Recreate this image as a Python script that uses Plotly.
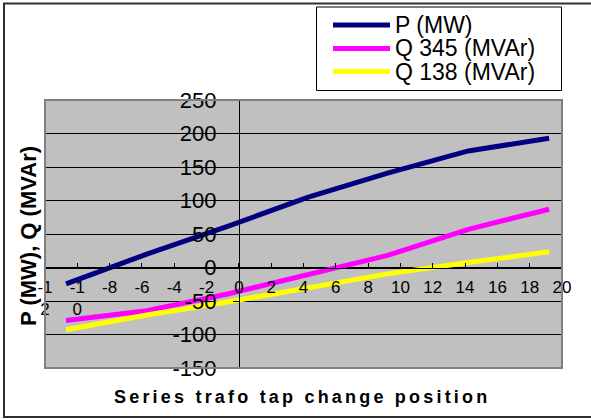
import plotly.graph_objects as go

# Data
tap_position = [-10.7, -5.7, -0.7, 4.3, 9.2, 14.2, 19.2]
p_mw = [-24.5, 20, 61.5, 105, 141, 174, 193]
q345_mvar = [-79, -64.5, -39.5, -11, 18, 57, 87]
q138_mvar = [-93, -71, -51.5, -30, -9.5, 7.5, 23.5]

series_names = ["P (MW)", "Q 345 (MVAr)", "Q 138 (MVAr)"]
series_colors = ["#000080", "#FF00FF", "#FFFF00"]

x_tick_vals = [-12, -10, -8, -6, -4, -2, 0, 2, 4, 6, 8, 10, 12, 14, 16, 18, 20]
x_tick_text = ["-1<br>2", "-1<br>0", "-8", "-6", "-4", "-2", "0", "2", "4", "6", "8",
               "10", "12", "14", "16", "18", "20"]
y_tick_vals = [-150, -100, -50, 0, 50, 100, 150, 200, 250]
y_tick_text = ["-150", "-100", "-50", "0", "50", "100", "150", "200", "250"]

FONT = "Liberation Sans, Arial, sans-serif"

fig = go.Figure()
for name, color, vals in zip(series_names, series_colors, [p_mw, q345_mvar, q138_mvar]):
    fig.add_trace(go.Scatter(x=tap_position, y=vals, mode="lines", name=name,
                             line=dict(color=color, width=5)))

L, R, T, B = 45, 29, 100, 51
W, H = 591, 419
pw, ph = W - L - R, H - T - B

def px_x(v):
    return (v - L) / pw

def px_y(v):
    return (H - B - v) / ph

shapes = [
    # outer chart frame (right edge lies outside the picture)
    dict(type="rect", xref="paper", yref="paper",
         x0=px_x(4), y0=px_y(417), x1=px_x(620), y1=px_y(3.5),
         line=dict(color="#303030", width=2), layer="below"),
    # plot-area border
    dict(type="rect", xref="paper", yref="paper", x0=0, y0=0, x1=1, y1=1,
         line=dict(color="#808080", width=2), layer="above"),
    # legend box
    dict(type="rect", xref="paper", yref="paper",
         x0=px_x(316.5), y0=px_y(90.5), x1=px_x(561.5), y1=px_y(7),
         line=dict(color="black", width=1), fillcolor="white", layer="above"),
]
annotations = [
    dict(text="<b>P (MW), Q (MVAr)</b>", xref="paper", yref="paper",
         x=px_x(28), y=px_y(236), textangle=-90, showarrow=False,
         font=dict(family=FONT, size=22, color="black"),
         xanchor="center", yanchor="middle"),
    dict(text="<span style='letter-spacing:3.2px'><b>Series trafo tap change position</b></span>",
         xref="paper", yref="paper",
         x=px_x(302), y=px_y(397), showarrow=False,
         font=dict(family=FONT, size=18, color="black"),
         xanchor="center", yanchor="middle"),
]
legend_rows = [25, 48.5, 71.5]
for name, color, yy in zip(series_names, series_colors, legend_rows):
    shapes.append(dict(type="line", xref="paper", yref="paper",
                       x0=px_x(333), x1=px_x(390), y0=px_y(yy), y1=px_y(yy),
                       line=dict(color=color, width=5), layer="above"))
    annotations.append(dict(text=name, xref="paper", yref="paper",
                            x=px_x(393), y=px_y(yy), showarrow=False,
                            xanchor="left", yanchor="middle",
                            font=dict(family=FONT, size=23, color="black")))

fig.update_layout(
    width=W, height=H,
    margin=dict(l=L, r=R, t=T, b=B, autoexpand=False),
    paper_bgcolor="white",
    plot_bgcolor="#C0C0C0",
    font=dict(family=FONT, color="black"),
    showlegend=False,
    xaxis=dict(
        range=[-12, 20], anchor="free", position=0.375,
        tickvals=x_tick_vals, ticktext=x_tick_text,
        showline=True, linecolor="black", linewidth=1,
        ticks="inside", ticklen=5, tickcolor="black",
        showgrid=False, zeroline=False,
        tickfont=dict(family=FONT, size=17, color="black"),
        ticklabelstandoff=4,
    ),
    yaxis=dict(
        range=[-150, 250], anchor="free", position=0.375,
        tickvals=y_tick_vals, ticktext=y_tick_text,
        showline=True, linecolor="black", linewidth=1,
        ticks="outside", ticklen=6, tickcolor="black",
        showgrid=True, gridcolor="black", gridwidth=1, zeroline=False,
        tickfont=dict(family=FONT, size=22, color="black"),
        ticklabelstandoff=12,
    ),
    shapes=shapes,
    annotations=annotations,
)

fig.write_html("out.html", config={"displayModeBar": False},
               post_script="document.body.style.margin='0';")
